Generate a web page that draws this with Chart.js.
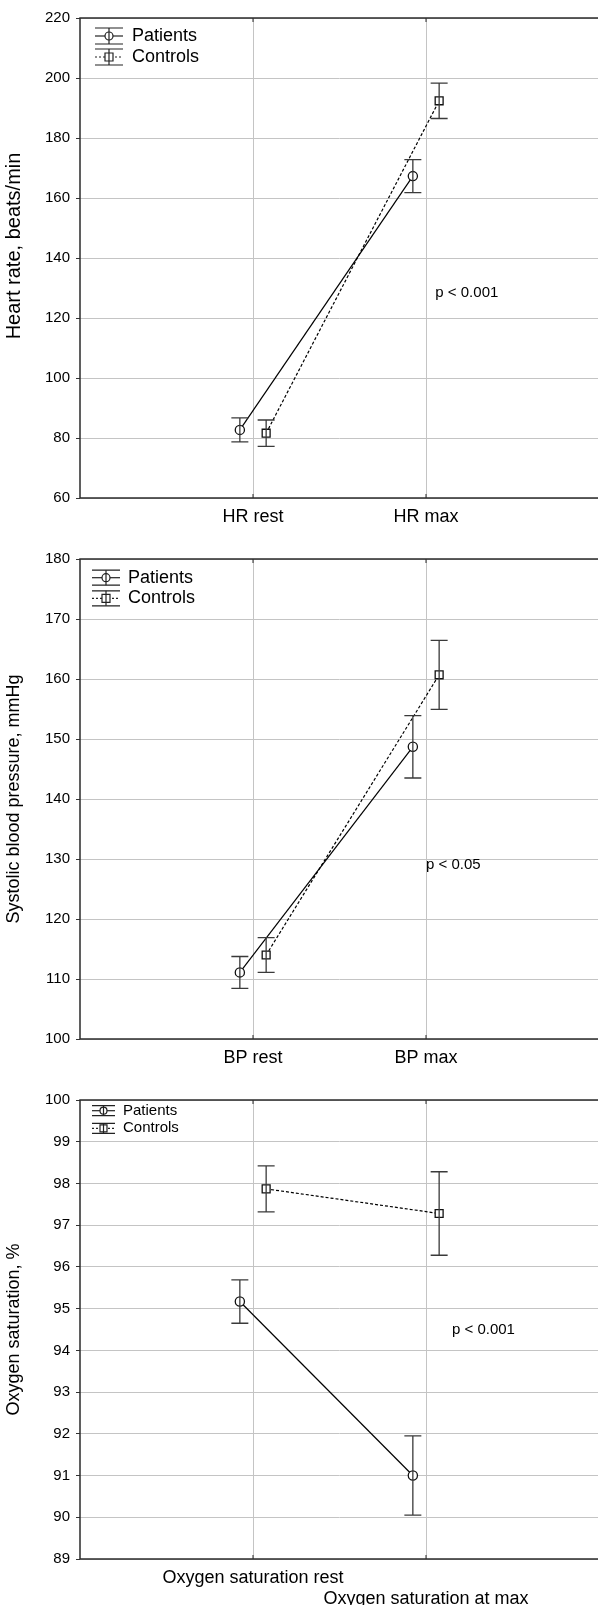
<!DOCTYPE html>
<html lang="en">
<head>
<meta charset="UTF-8" />
<script src="https://cdn.jsdelivr.net/npm/chart.js@4.4.1/dist/chart.umd.min.js"></script>
<title>Patients vs controls</title>
<style>
  html, body { margin: 0; padding: 0; background: #fff; overflow: hidden; width: 598px; height: 1605px; }
  .panel { position: absolute; left: 0; }
</style>
</head>
<body>
<div class="panel" style="top:0"><canvas id="hrChart" width="607" height="545"></canvas></div>
<div class="panel" style="top:541px"><canvas id="bpChart" width="607" height="545"></canvas></div>
<div class="panel" style="top:1082px"><canvas id="oxChart" width="607" height="523"></canvas></div>

<script>
  const seriesNames = ['Patients', 'Controls'];

  // heart rate
  const hrLabels = ['HR rest', 'HR max'];
  const hrPatients = [82.7, 167.3];
  const hrPatientsErr = [4.0, 5.5];
  const hrControls = [81.6, 192.4];
  const hrControlsErr = [4.4, 5.9];
  const hrAxis = [60, 220, 20];   // min, max, step

  // systolic blood pressure
  const bpLabels = ['BP rest', 'BP max'];
  const bpPatients = [111.1, 148.7];
  const bpPatientsErr = [2.65, 5.2];
  const bpControls = [114.0, 160.7];
  const bpControlsErr = [2.9, 5.75];
  const bpAxis = [100, 180, 10];

  // oxygen saturation
  const oxLabels = ['Oxygen saturation rest', 'Oxygen saturation at max'];
  const oxPatients = [95.17, 91.0];
  const oxPatientsErr = [0.52, 0.95];
  const oxControls = [97.87, 97.28];
  const oxControlsErr = [0.55, 1.0];
  const oxAxis = [89, 100, 1];

  const pValues = ['p < 0.001', 'p < 0.05', 'p < 0.001'];

  const FONT = '"Liberation Sans", Arial, sans-serif';
  Chart.defaults.font.family = FONT;
  Chart.defaults.color = '#000';

  const shift = 0.076; // patients left of the category, controls right

  function pts(vals, dx) {
    return vals.map((v, i) => ({ x: i + 1 + dx, y: v }));
  }

  function deco(p) {
    return {
      id: 'deco',
      beforeDatasetsDraw(chart) {
        const { ctx, chartArea: a, scales } = chart;
        ctx.save();
        ctx.strokeStyle = '#2b2b2b';
        ctx.lineWidth = 1.5;
        ctx.strokeRect(a.left, a.top, a.right - a.left, a.bottom - a.top);
        ctx.lineWidth = 1;
        ctx.beginPath();
        [1, 2].forEach(v => {
          const x = scales.x.getPixelForValue(v);
          ctx.moveTo(x, a.top); ctx.lineTo(x, a.top + 4);
          ctx.moveTo(x, a.bottom); ctx.lineTo(x, a.bottom - 4);
        });
        ctx.stroke();
        ctx.restore();
      },
      afterDatasetsDraw(chart) {
        const { ctx, scales } = chart;
        ctx.save();
        ctx.strokeStyle = '#3a3a3a';
        ctx.lineWidth = 1.3;
        chart.data.datasets.forEach((ds, di) => {
          const meta = chart.getDatasetMeta(di);
          meta.data.forEach((el, i) => {
            const v = ds.data[i].y, e = ds.err[i];
            const yt = scales.y.getPixelForValue(v + e);
            const yb = scales.y.getPixelForValue(v - e);
            const x = el.x;
            ctx.beginPath();
            ctx.moveTo(x, yt); ctx.lineTo(x, yb);
            ctx.moveTo(x - 8.5, yt); ctx.lineTo(x + 8.5, yt);
            ctx.moveTo(x - 8.5, yb); ctx.lineTo(x + 8.5, yb);
            ctx.stroke();
          });
        });
        ctx.restore();
      },
      afterDraw(chart) {
        const { ctx, chartArea: a, scales } = chart;
        ctx.save();
        ctx.fillStyle = '#000';

        // y axis title
        ctx.save();
        ctx.font = p.titleFont + 'px ' + FONT;
        ctx.textAlign = 'center';
        ctx.textBaseline = 'middle';
        ctx.translate(14, (a.top + a.bottom) / 2 + p.titleShift);
        ctx.rotate(-Math.PI / 2);
        ctx.fillText(p.title, 0, 0);
        ctx.restore();

        // p value note
        ctx.font = p.pFont + 'px ' + FONT;
        ctx.textAlign = 'left';
        ctx.textBaseline = 'middle';
        ctx.fillText(p.pText, scales.x.getPixelForValue(p.pAt[0]), scales.y.getPixelForValue(p.pAt[1]));

        // legend with error-bar symbols
        const lg = p.legend;
        ctx.font = lg.font + 'px ' + FONT;
        seriesNames.forEach((name, i) => {
          const y = a.top + lg.rows[i];
          const x0 = a.left + lg.x0, x1 = a.left + lg.x1, xc = (x0 + x1) / 2;
          ctx.strokeStyle = '#222';
          ctx.lineWidth = 1.2;
          ctx.setLineDash(i ? [2, 2] : []);
          ctx.beginPath(); ctx.moveTo(x0, y); ctx.lineTo(x1, y); ctx.stroke();
          ctx.setLineDash([]);
          ctx.beginPath();
          ctx.moveTo(x0, y - lg.cap); ctx.lineTo(x1, y - lg.cap);
          ctx.moveTo(x0, y + lg.cap); ctx.lineTo(x1, y + lg.cap);
          ctx.stroke();
          ctx.fillStyle = '#fff';
          ctx.beginPath();
          if (i === 0) ctx.arc(xc, y, lg.mark, 0, Math.PI * 2);
          else ctx.rect(xc - lg.mark, y - lg.mark, lg.mark * 2, lg.mark * 2);
          ctx.fill(); ctx.stroke();
          ctx.beginPath(); ctx.moveTo(xc, y - lg.cap); ctx.lineTo(xc, y + lg.cap); ctx.stroke();
          ctx.fillStyle = '#000';
          ctx.fillText(name, a.left + lg.text, y);
        });
        ctx.restore();
      }
    };
  }

  function makePanel(id, p) {
    const [ymin, ymax, ystep] = p.axis;
    return new Chart(document.getElementById(id), {
      type: 'line',
      data: {
        datasets: [
          {
            label: seriesNames[0],
            data: pts(p.patients, -shift),
            err: p.patientsErr,
            borderColor: '#000',
            borderWidth: 1.2,
            pointStyle: 'circle',
            pointRadius: 4.6,
            pointBorderWidth: 1.3,
            pointBorderColor: '#111',
            pointBackgroundColor: '#fff'
          },
          {
            label: seriesNames[1],
            data: pts(p.controls, shift),
            err: p.controlsErr,
            borderColor: '#000',
            borderWidth: 1.2,
            borderDash: [3, 2],
            pointStyle: 'rect',
            pointRadius: 5.6,
            pointBorderWidth: 1.3,
            pointBorderColor: '#111',
            pointBackgroundColor: '#fff'
          }
        ]
      },
      options: {
        responsive: false,
        animation: false,
        devicePixelRatio: 1,
        layout: { padding: { top: 18, left: 0, right: 0, bottom: 0 } },
        plugins: { legend: { display: false }, tooltip: { enabled: false } },
        scales: {
          x: {
            type: 'linear', min: 0, max: 3,
            afterFit: s => { s.height = p.xHeight; },
            ticks: {
              stepSize: 1, autoSkip: false, maxRotation: 0, padding: 8,
              font: { size: 18 }, color: '#000',
              callback: v => {
                const l = p.labels[v - 1];
                if (!l) return '';
                return (p.stagger && v === 2) ? ['', l] : l;
              }
            },
            grid: {
              color: c => (c.tick && (c.tick.value === 1 || c.tick.value === 2)) ? '#c4c4c4' : 'rgba(0,0,0,0)',
              drawTicks: false
            },
            border: { display: false }
          },
          y: {
            min: ymin, max: ymax,
            afterFit: s => { s.width = 80; },
            ticks: { stepSize: ystep, padding: 6, font: { size: 15 }, color: '#000' },
            grid: { color: '#c4c4c4', tickLength: 4, tickColor: '#333' },
            border: { display: false }
          }
        }
      },
      plugins: [deco(p)]
    });
  }

  makePanel('hrChart', {
    labels: hrLabels, patients: hrPatients, patientsErr: hrPatientsErr,
    controls: hrControls, controlsErr: hrControlsErr, axis: hrAxis,
    title: 'Heart rate, beats/min', titleFont: 20, titleShift: -12, xHeight: 47,
    pText: pValues[0], pAt: [2.054, 128.3], pFont: 15,
    legend: { x0: 15, x1: 43, text: 52, rows: [18, 39], cap: 8, mark: 4, font: 18 }
  });

  makePanel('bpChart', {
    labels: bpLabels, patients: bpPatients, patientsErr: bpPatientsErr,
    controls: bpControls, controlsErr: bpControlsErr, axis: bpAxis,
    title: 'Systolic blood pressure, mmHg', titleFont: 18, titleShift: 0, xHeight: 47,
    pText: pValues[1], pAt: [2.0, 129], pFont: 15,
    legend: { x0: 12, x1: 40, text: 48, rows: [18.7, 39.3], cap: 7.5, mark: 4, font: 18 }
  });

  makePanel('oxChart', {
    labels: oxLabels, patients: oxPatients, patientsErr: oxPatientsErr,
    controls: oxControls, controlsErr: oxControlsErr, axis: oxAxis,
    title: 'Oxygen saturation, %', titleFont: 18, titleShift: 0, xHeight: 46, stagger: true,
    pText: pValues[2], pAt: [2.15, 94.5], pFont: 15,
    legend: { x0: 12, x1: 35, text: 43, rows: [10.7, 28.3], cap: 5, mark: 3.5, font: 15 }
  });
</script>
</body>
</html>
